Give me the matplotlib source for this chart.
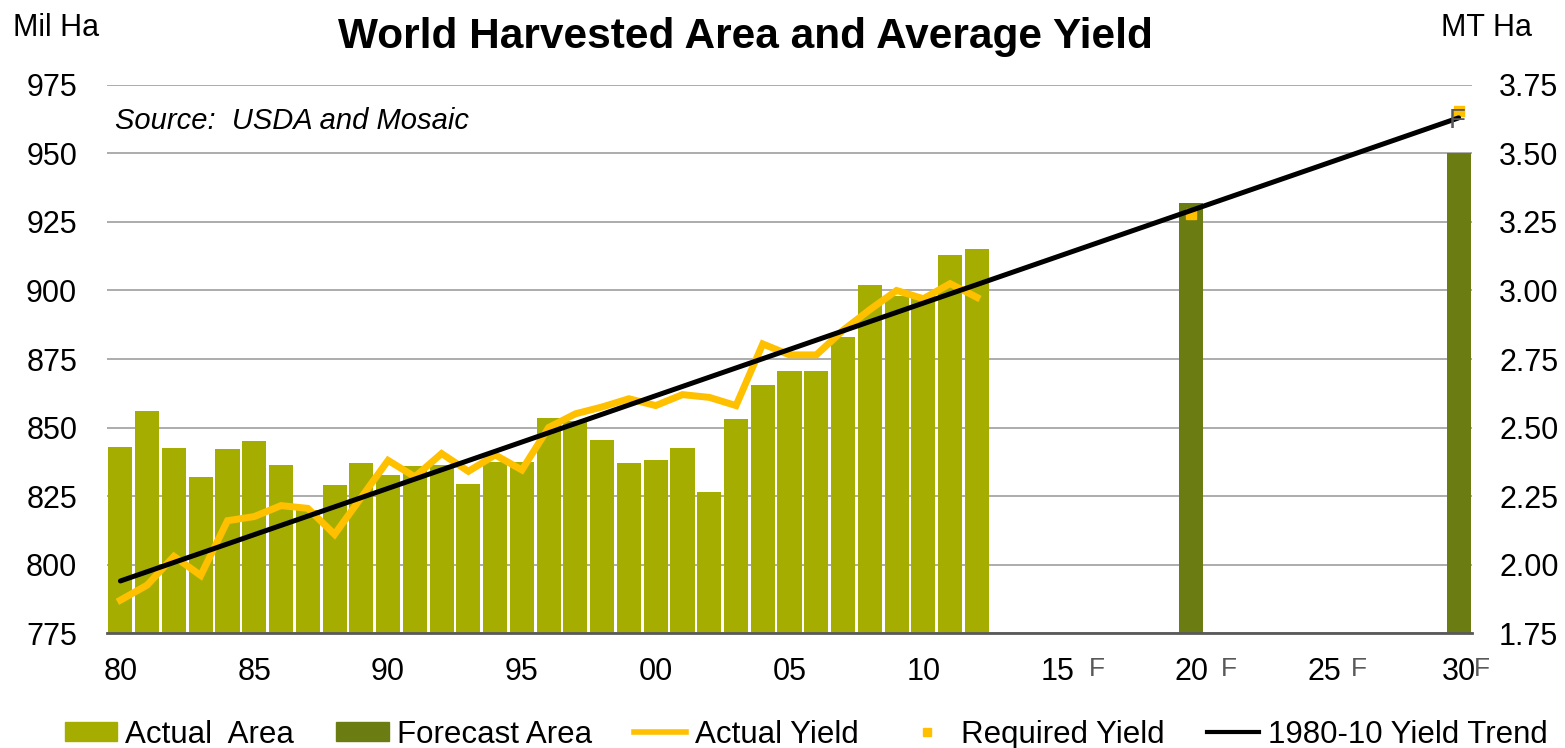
import matplotlib
matplotlib.use("Agg")
import matplotlib.pyplot as plt
from matplotlib.lines import Line2D
from matplotlib.patches import Patch

plt.rcParams["font.family"] = ["Liberation Sans", "DejaVu Sans"]

YEARS_ACTUAL = list(range(1980, 2013))
AREA_ACTUAL = [843, 856, 842.5, 832, 842, 845, 836.5, 820, 829, 837, 832.5, 836,
               836.5, 829.5, 837.5, 837.5, 853.5, 852.5, 845.5, 837, 838, 842.5,
               826.5, 853, 865.5, 870.5, 870.5, 883, 902, 898, 898.5, 913, 915]
YIELD_ACTUAL = [1.87, 1.925, 2.03, 1.96, 2.16, 2.175, 2.215, 2.205, 2.11, 2.245,
                2.38, 2.32, 2.405, 2.34, 2.40, 2.345, 2.50, 2.55, 2.575, 2.605,
                2.58, 2.62, 2.61, 2.58, 2.805, 2.765, 2.765, 2.855, 2.93, 3.0,
                2.97, 3.025, 2.975]
YEARS_FORECAST = [2020, 2030]
AREA_FORECAST = [932, 950]
YIELD_REQUIRED = [3.28, 3.655]
TREND_YEARS = [1980, 2030]
TREND_YIELD = [1.94, 3.63]

X_TICKS = list(range(1980, 2031, 5))
X_LABELS = ["80", "85", "90", "95", "00", "05", "10", "15", "20", "25", "30"]
F_YEARS = [2015, 2020, 2025, 2030]

C_ACTUAL = "#A5AE00"
C_FORECAST = "#6B7D12"
C_YIELD = "#FFC000"
C_F = "#595959"

fig = plt.figure(figsize=(15.65, 7.48), dpi=100)
ax = fig.add_axes([0.0684, 0.1537, 0.8722, 0.7327])
ax2 = ax.twinx()

ax.bar(YEARS_ACTUAL, AREA_ACTUAL, width=0.9, color=C_ACTUAL, zorder=2)
ax.bar(YEARS_FORECAST, AREA_FORECAST, width=0.9, color=C_FORECAST, zorder=2)
ax.set_ylim(775, 975)
ax.set_yticks(range(775, 976, 25))
ax.set_xlim(1979.5, 2030.5)
ax.set_xticks(X_TICKS)
ax.set_xticklabels(X_LABELS)
ax.yaxis.grid(True, color="#A6A6A6", lw=1.3, zorder=0)
ax.set_axisbelow(True)
for s in ["left", "right", "top"]:
    ax.spines[s].set_visible(False)
    ax2.spines[s].set_visible(False)
ax.spines["bottom"].set_color("#595959")
ax.spines["bottom"].set_linewidth(2)
ax2.spines["bottom"].set_visible(False)
ax.tick_params(axis="y", length=0, pad=21.5, labelsize=22)
ax.tick_params(axis="x", length=0, pad=17, labelsize=22)

ax2.plot(YEARS_ACTUAL, YIELD_ACTUAL, color=C_YIELD, lw=5, solid_joinstyle="miter")
ax2.plot(TREND_YEARS, TREND_YIELD, color="black", lw=3.6, solid_capstyle="round")
ax2.plot(YEARS_FORECAST, YIELD_REQUIRED, ls="none", marker="s", ms=7,
         color=C_YIELD, zorder=1)
ax2.set_ylim(1.75, 3.75)
ax2.set_yticks([1.75 + 0.25 * i for i in range(9)])
ax2.set_yticklabels([f"{1.75 + 0.25 * i:.2f}" for i in range(9)])
ax2.tick_params(axis="y", length=0, pad=19.5, labelsize=22)

# "F" forecast markers next to the x labels and at the 2030 point
for yr, dx in zip(F_YEARS, [1.49, 1.42, 1.27, 0.86]):
    ax.text(yr + dx, -0.078, "F", transform=ax.get_xaxis_transform(),
            ha="center", va="baseline", fontsize=19, color=C_F)
ax2.text(2029.93, 3.593, "F", ha="center", va="baseline", fontsize=20, color=C_F)

ax.text(0.0059, 0.9197, "Source:  USDA and Mosaic", transform=ax.transAxes,
        fontsize=21, style="italic", va="baseline")
fig.text(0.476, 0.9358, "World Harvested Area and Average Yield", ha="center",
         va="baseline", fontsize=30.5, fontweight="bold")
fig.text(0.0083, 0.9519, "Mil Ha", fontsize=22, va="baseline")
fig.text(0.979, 0.9519, "MT Ha", fontsize=22, va="baseline", ha="right")

handles = [
    Patch(color=C_ACTUAL, label="Actual  Area"),
    Patch(color=C_FORECAST, label="Forecast Area"),
    Line2D([0], [0], color=C_YIELD, lw=4, label="Actual Yield"),
    Line2D([0], [0], color=C_YIELD, ls="none", marker="s", ms=6, label="Required Yield"),
    Line2D([0], [0], color="black", lw=3, label="1980-10 Yield Trend"),
]
fig.legend(handles=handles, loc="center", bbox_to_anchor=(0.515, 0.018),
           ncol=5, frameon=False, fontsize=22.5, handlelength=1.67,
           handleheight=0.55, handletextpad=0.26, columnspacing=1.36,
           borderpad=0.1)

fig.savefig("out.png", dpi=100)
